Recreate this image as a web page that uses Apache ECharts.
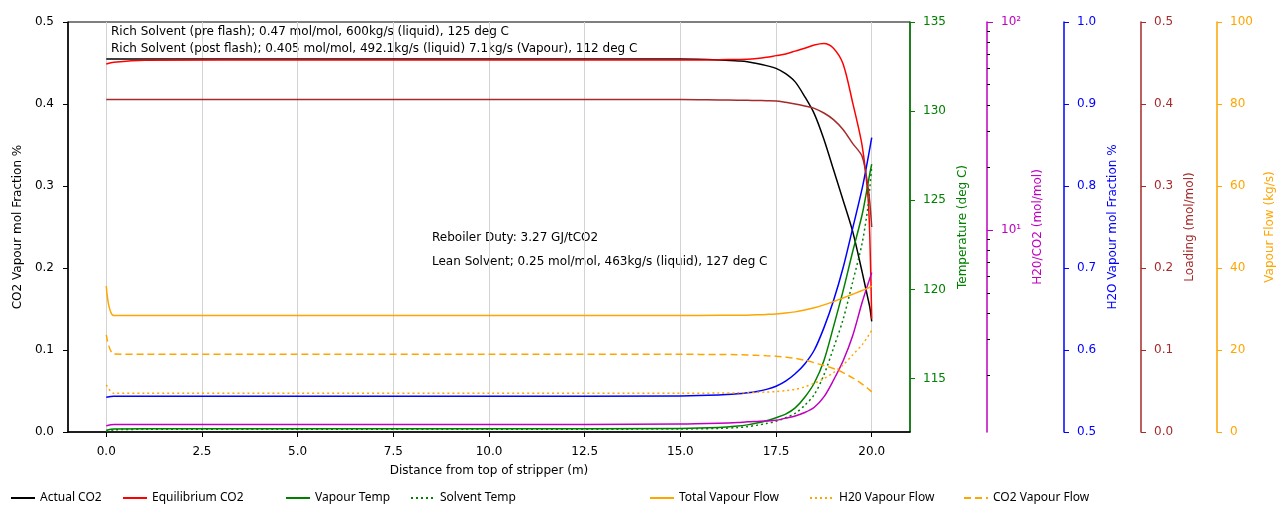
<!DOCTYPE html>
<html>
<head>
<meta charset="utf-8">
<script src="https://cdn.jsdelivr.net/npm/echarts@6/dist/echarts.min.js"></script>
<style>
  html, body { margin: 0; padding: 0; background: #fff; }
  #chart { width: 1278px; height: 506px; }
</style>
</head>
<body>
<div id="chart"></div>
<script>
// distance from top of stripper (m)
const distance = [0, 0.2, 1, 5, 10, 15, 16, 16.5, 16.75, 17, 17.25, 17.5, 17.75, 18, 18.25, 18.5, 18.75, 19, 19.25, 19.5, 19.75, 19.9, 19.95, 20]

const actualCO2 = [0.455, 0.455, 0.455, 0.455, 0.455, 0.4548, 0.4538, 0.4525, 0.4516, 0.4495, 0.4468, 0.4435, 0.437, 0.427, 0.409, 0.388, 0.357, 0.32, 0.283, 0.245, 0.195, 0.163, 0.152, 0.135]
const equilibriumCO2 = [0.4488, 0.451, 0.4535, 0.4537, 0.4537, 0.4537, 0.454, 0.4543, 0.4545, 0.4555, 0.457, 0.459, 0.461, 0.4645, 0.468, 0.472, 0.4738, 0.468, 0.449, 0.402, 0.349, 0.288, 0.238, 0.138]
const vapourTemp = [112.1, 112.17, 112.18, 112.18, 112.18, 112.2, 112.25, 112.33, 112.4, 112.5, 112.63, 112.8, 113.0, 113.35, 113.95, 114.75, 116.0, 117.9, 119.9, 122.1, 124.2, 125.9, 126.5, 127.03]
const solventTemp = [112.05, 112.12, 112.15, 112.15, 112.15, 112.17, 112.2, 112.25, 112.3, 112.38, 112.48, 112.6, 112.8, 113.05, 113.5, 114.1, 115.2, 116.7, 118.3, 120.4, 122.6, 124.6, 125.7, 126.9]
const h2oCo2Ratio = [1.15, 1.165, 1.165, 1.165, 1.165, 1.17, 1.18, 1.19, 1.2, 1.205, 1.21, 1.22, 1.25, 1.28, 1.33, 1.41, 1.58, 1.9, 2.35, 3.1, 4.5, 5.5, 5.85, 6.25]
const h2oFraction = [0.5423, 0.5435, 0.5437, 0.5437, 0.5437, 0.544, 0.545, 0.5465, 0.5478, 0.5495, 0.552, 0.5558, 0.562, 0.571, 0.583, 0.6, 0.627, 0.66, 0.7, 0.748, 0.797, 0.833, 0.846, 0.859]
const loading = [0.4055, 0.4055, 0.4055, 0.4055, 0.4055, 0.4055, 0.405, 0.4047, 0.4045, 0.4043, 0.404, 0.4037, 0.402, 0.4, 0.3975, 0.3947, 0.389, 0.381, 0.369, 0.352, 0.336, 0.3, 0.28, 0.25]
const totalFlow = [35.6, 28.4, 28.4, 28.4, 28.4, 28.4, 28.45, 28.47, 28.5, 28.58, 28.68, 28.8, 29.0, 29.3, 29.75, 30.3, 31.0, 31.8, 32.7, 33.6, 34.5, 35.1, 35.3, 35.6]
const h2oFlow = [11.5, 9.45, 9.43, 9.43, 9.43, 9.43, 9.5, 9.55, 9.6, 9.68, 9.76, 9.85, 10.1, 10.4, 11.0, 11.9, 13.0, 14.5, 16.3, 18.8, 21.3, 23.3, 24.0, 24.8]
const co2Flow = [23.7, 19.0, 18.95, 18.95, 18.95, 18.95, 18.9, 18.85, 18.8, 18.7, 18.6, 18.5, 18.25, 17.95, 17.5, 16.9, 16.2, 15.5, 14.5, 13.2, 11.7, 10.6, 10.2, 9.8]

// tick labels
const xTicks = [0, 2.5, 5, 7.5, 10, 12.5, 15, 17.5, 20]
const tempTicks = [115, 120, 125, 130, 135]
const ratioTicks = [10, 100]
const ratioMinorTicks = [2, 3, 4, 5, 6, 7, 8, 9, 20, 30, 40, 50, 60, 70, 80, 90]

const notes = [
  'Rich Solvent (pre flash); 0.47 mol/mol, 600kg/s (liquid), 125 deg C',
  'Rich Solvent (post flash); 0.405 mol/mol, 492.1kg/s (liquid) 7.1kg/s (Vapour), 112 deg C',
  'Reboiler Duty: 3.27 GJ/tCO2',
  'Lean Solvent; 0.25 mol/mol, 463kg/s (liquid), 127 deg C'
]

const FONT = 'DejaVu Sans'
const pairs = vals => distance.map((d, i) => [d, vals[i]])

function rightAxis(color, offset, extra) {
  return Object.assign({
    type: 'value',
    position: 'right',
    offset: offset,
    nameLocation: 'middle',
    nameRotate: 90,
    nameGap: 46,
    nameTextStyle: { color: color, fontFamily: FONT, fontSize: 12 },
    axisLine: { show: true, onZero: false, lineStyle: { color: color, width: 1.5 } },
    axisTick: { show: true, length: 5, lineStyle: { color: color } },
    axisLabel: { color: color, fontFamily: FONT, fontSize: 12, margin: 13 },
    splitLine: { show: false }
  }, extra)
}

function line(name, vals, yAxisIndex, color, type) {
  return {
    name: name,
    type: 'line',
    yAxisIndex: yAxisIndex,
    data: pairs(vals),
    symbol: 'none',
    smooth: 0.3,
    lineStyle: { color: color, width: 1.5, type: type || 'solid' },
    itemStyle: { color: color }
  }
}

const legendItems = [
  ['Actual CO2', 10], ['Equilibrium CO2', 122], ['Vapour Temp', 285], ['Solvent Temp', 410],
  ['Total Vapour Flow', 649], ['H20 Vapour Flow', 809], ['CO2 Vapour Flow', 963]
]

const chart = echarts.init(document.getElementById('chart'))
chart.setOption({
  animation: false,
  backgroundColor: '#fff',
  grid: { left: 68, right: 368, top: 22, bottom: 74, show: true, borderColor: '#000', borderWidth: 1, outerBoundsMode: 'none', containLabel: false },
  legend: legendItems.map(([n, x]) => ({
    data: [n], left: x, top: 492, padding: 0, itemWidth: 24, itemHeight: 12,
    itemStyle: { color: 'rgba(0,0,0,0)', borderWidth: 0, opacity: 0 },
    textStyle: { fontFamily: 'Noto Sans', fontSize: 12, color: '#000' }
  })),
  xAxis: {
    type: 'value', min: -1, max: 21,
    name: 'Distance from top of stripper (m)', nameLocation: 'middle', nameGap: 33,
    nameTextStyle: { color: '#000', fontFamily: FONT, fontSize: 12 },
    axisLine: { onZero: false, lineStyle: { color: '#000', width: 1.5 } },
    axisTick: { customValues: xTicks, length: 5, lineStyle: { color: '#000' } },
    axisLabel: { customValues: xTicks, formatter: v => v.toFixed(1), color: '#000', fontFamily: FONT, fontSize: 12, margin: 14 },
    splitLine: { show: true, lineStyle: { color: '#d3d3d3', width: 1 } }
  },
  yAxis: [
    {
      type: 'value', min: 0, max: 0.5, interval: 0.1, position: 'left',
      name: 'CO2 Vapour mol Fraction %', nameLocation: 'middle', nameGap: 44,
      nameTextStyle: { color: '#000', fontFamily: FONT, fontSize: 12 },
      axisLine: { show: true, onZero: false, lineStyle: { color: '#000', width: 1.5 } },
      axisTick: { show: true, length: 5, lineStyle: { color: '#000' } },
      axisLabel: { formatter: v => v.toFixed(1), color: '#000', fontFamily: FONT, fontSize: 12, margin: 14 },
      splitLine: { show: false }
    },
    rightAxis('#008000', 0, {
      min: 112, max: 135, name: 'Temperature (deg C)', nameGap: 47,
      axisTick: { show: true, length: 5, customValues: tempTicks, lineStyle: { color: '#008000' } },
      axisLabel: { customValues: tempTicks, color: '#008000', fontFamily: FONT, fontSize: 12, margin: 13 }
    }),
    rightAxis('#bf00bf', 77, {
      type: 'log', logBase: 10, min: 1.072, max: 100, name: 'H20/CO2 (mol/mol)', nameGap: 44,
      axisTick: { show: true, length: 6, customValues: ratioTicks, lineStyle: { color: '#bf00bf' } },
      axisLabel: { customValues: ratioTicks, formatter: v => (v >= 100 ? '10\u00b2' : '10\u00b9'), color: '#bf00bf', fontFamily: FONT, fontSize: 12, margin: 14 }
    }),
    rightAxis('#0000ff', 154, { min: 0.5, max: 1.0, interval: 0.1, name: 'H2O Vapour mol Fraction %', nameGap: 42,
      axisLabel: { formatter: v => v.toFixed(1), color: '#0000ff', fontFamily: FONT, fontSize: 12, margin: 13 } }),
    rightAxis('#a52a2a', 231, { min: 0, max: 0.5, interval: 0.1, name: 'Loading (mol/mol)', nameGap: 42,
      axisLabel: { formatter: v => v.toFixed(1), color: '#a52a2a', fontFamily: FONT, fontSize: 12, margin: 13 } }),
    rightAxis('#ffa500', 307, { min: 0, max: 100, interval: 20, name: 'Vapour Flow (kg/s)', nameGap: 46 }),
    // minor ticks of the log axis
    {
      type: 'log', logBase: 10, min: 1.072, max: 100, position: 'right', offset: 77,
      axisLine: { show: false, onZero: false },
      axisTick: { show: true, length: 3, customValues: ratioMinorTicks, lineStyle: { color: '#000' } },
      axisLabel: { show: false },
      splitLine: { show: false }
    }
  ],
  graphic: [
    { type: 'text', left: 111, top: 26, style: { text: notes[0], font: '12px "DejaVu Sans"', fill: '#000' } },
    { type: 'text', left: 111, top: 43, style: { text: notes[1], font: '12px "DejaVu Sans"', fill: '#000' } },
    { type: 'text', left: 432, top: 232, style: { text: notes[2], font: '12px "DejaVu Sans"', fill: '#000' } },
    { type: 'text', left: 432, top: 256, style: { text: notes[3], font: '12px "DejaVu Sans"', fill: '#000' } }
  ],
  series: [
    line('Actual CO2', actualCO2, 0, '#000000'),
    line('Equilibrium CO2', equilibriumCO2, 0, '#ff0000'),
    line('Vapour Temp', vapourTemp, 1, '#008000'),
    line('Solvent Temp', solventTemp, 1, '#008000', [2, 3]),
    line('H2O/CO2 ratio', h2oCo2Ratio, 2, '#bf00bf'),
    line('H2O Vapour Fraction', h2oFraction, 3, '#0000ff'),
    line('Loading', loading, 4, '#a52a2a'),
    line('Total Vapour Flow', totalFlow, 5, '#ffa500'),
    line('H20 Vapour Flow', h2oFlow, 5, '#ffa500', [2, 3]),
    line('CO2 Vapour Flow', co2Flow, 5, '#ffa500', [7, 4])
  ]
})
</script>
</body>
</html>
